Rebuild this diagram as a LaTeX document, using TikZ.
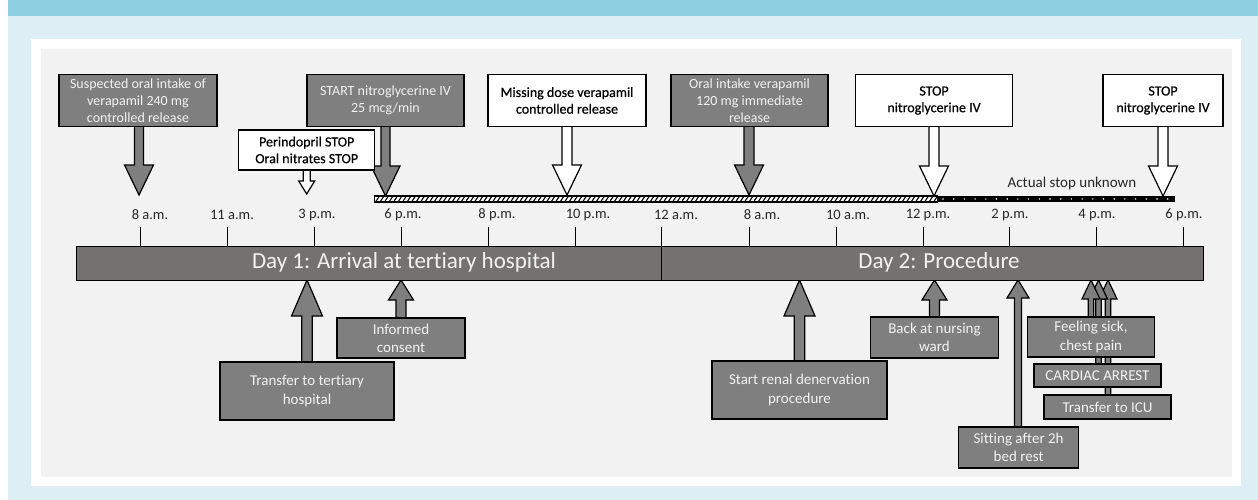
\documentclass[tikz,border=0pt]{standalone}
\usepackage{fontspec}
\setmainfont{Carlito}[Ligatures=NoCommon]
\newfontfamily\wfont{Carlito}[Ligatures=NoCommon,FakeBold=0.5]
\usetikzlibrary{calc}
\definecolor{bandblue}{HTML}{8ED0E1}
\definecolor{lightblue}{HTML}{DDEEF5}
\definecolor{panelgray}{HTML}{F2F2F2}
\definecolor{boxgray}{HTML}{7F7F7F}
\definecolor{bargray}{HTML}{767171}
\definecolor{boxtext}{HTML}{F2F2F2}
\pgfdeclarelayer{bg}
\pgfdeclarelayer{arr}
\pgfsetlayers{bg,arr,main}
% block arrow pointing down: #1 start, #2 tip, #3 half shaft, #4 half head, #5 head length, #6 style
\newcommand\blkdown[6]{%
  \path[#6] let \p1=(#1),\p2=(#2) in
    (\x2-#3,\y1) -- (\x2-#3,\y2+#5) -- (\x2-#4,\y2+#5) -- (\x2,\y2)
    -- (\x2+#4,\y2+#5) -- (\x2+#3,\y2+#5) -- (\x2+#3,\y1) -- cycle;}
\newcommand\blkup[6]{%
  \path[#6] let \p1=(#1),\p2=(#2) in
    (\x2-#3,\y1) -- (\x2-#3,\y2-#5) -- (\x2-#4,\y2-#5) -- (\x2,\y2)
    -- (\x2+#4,\y2-#5) -- (\x2+#3,\y2-#5) -- (\x2+#3,\y1) -- cycle;}
\begin{document}
\begin{tikzpicture}[x=1pt,y=-1pt,
  gbox/.style={draw=black,line width=1.2pt,fill=boxgray,text=boxtext,align=center,inner sep=0pt,
    font=\fontsize{14}{16.7}\selectfont},
  wbox/.style={gbox,fill=white,text=black,font=\wfont\fontsize{14}{16.7}\selectfont},
  lbox/.style={gbox,font=\fontsize{15}{18.3}\selectfont},
  garrow/.style={draw=black,line width=1.2pt,fill=boxgray,line join=miter},
  warrow/.style={garrow,fill=white},
  daybar/.style={draw=black,line width=1.4pt,fill=bargray,inner sep=0pt,anchor=north west},
  daytext/.style={text=boxtext,font=\fontsize{23}{26}\selectfont,inner sep=0pt},
  ticklab/.style={text=black!85,font=\fontsize{14.5}{16}\selectfont,inner sep=0pt},
  tickline/.style={draw=black,line width=1pt}]
\useasboundingbox (0,0) rectangle (1258,500);
\begin{pgfonlayer}{bg}
  \fill[white] (0,0) rectangle (1258,500);
  \fill[lightblue] (8,0) rectangle (1258,500);
  \fill[bandblue] (8,0) rectangle (1258,16);
  \fill[white] (31,39) rectangle (1241,486);
  \fill[panelgray] (41,49) rectangle (1232,477);
\end{pgfonlayer}

% ---- timeline bar
\node[daybar,minimum width=585.3pt,minimum height=33.5pt] (day1) at (75.7,246) {};
\node[daybar,minimum width=542pt,minimum height=33.5pt] (day2) at (661,246) {};
\node[daytext] (d1t) at (404,262.5) {Day 1: Arrival at tertiary hospital};
\node[daytext] (d2t) at (939,262.5) {Day 2: Procedure};

% ---- ticks and labels
\foreach \tx/\lx/\lab [count=\k] in {140/150/8 a.m., 227/232/11 a.m., 314/317/3 p.m., 401/403/6 p.m.,
   488/497/8 p.m., 575/588/10 p.m., 661/676/12 a.m., 749/762/8 a.m., 836/848/10 a.m.,
   923/928/12 p.m., 1009/1010/2 p.m., 1096/1097/4 p.m., 1183/1184/6 p.m.}{
  \node[ticklab] (tl\k) at (\lx,215) {\lab};
  \coordinate (tk\k) at (\tx,227);
  \draw[tickline] (tk\k) -- (tk\k |- day1.north);
}

% ---- nitroglycerine bars
\node[draw=black,line width=0.8pt,fill=white,minimum width=563pt,minimum height=5.5pt,anchor=west,inner sep=0pt] (nitro) at (374,199) {};
\begin{scope}
  \clip (374,196.2) rectangle (937,201.8);
  \foreach \i in {0,...,126} \draw[black,line width=1.1pt] ({371+4.5*\i},202) -- ({375+4.5*\i},196);
\end{scope}
\draw[black,line width=0.8pt] (nitro.north west) rectangle (nitro.south east);
\node[draw=black,line width=0.8pt,fill=black,minimum width=237pt,minimum height=5.5pt,anchor=west,inner sep=0pt] (unk) at (937,199) {};
\foreach \i in {0,...,21} \fill[white] ({943+10.7*\i},199) circle (0.8);
\node[ticklab,text=black!85,font=\fontsize{15}{17}\selectfont] (act) at (1072,184) {Actual stop unknown};

% ---- top boxes
\node[gbox,minimum width=158pt,minimum height=52pt] (sus) at (138,100.5) {Suspected oral intake of\\verapamil 240 mg\\controlled release};
\node[wbox,minimum width=136pt,minimum height=40pt] (per) at (306.7,150) {Perindopril STOP\\Oral nitrates STOP};
\node[gbox,minimum width=157pt,minimum height=52pt] (start) at (385.5,100.5) {START nitroglycerine IV\\25 mcg/min};
\node[wbox,minimum width=158pt,minimum height=52pt] (miss) at (567,100.5) {Missing dose verapamil\\controlled release};
\node[gbox,minimum width=157pt,minimum height=52pt] (oral) at (749.5,100.5) {Oral intake verapamil\\120 mg immediate\\release};
\node[wbox,minimum width=157pt,minimum height=52pt] (stop1) at (934,100.5) {STOP\\nitroglycerine IV};
\node[wbox,minimum width=120pt,minimum height=52pt] (stop2) at (1163,100.5) {STOP\\nitroglycerine IV};

\coordinate (tsus) at (139,195);
\coordinate (tper) at (306.7,194);
\coordinate (tstart) at (385.5,196);
\coordinate (tmiss) at (567,195);
\coordinate (toral) at (749,195);
\coordinate (tstop1) at (934,196);
\coordinate (tstop2) at (1163,196);

% ---- bottom boxes
\node[lbox,minimum width=174pt,minimum height=58pt] (trans) at (307,391) {Transfer to tertiary\\hospital};
\node[lbox,minimum width=128pt,minimum height=40pt] (cons) at (401,338) {Informed\\consent};
\node[lbox,minimum width=175pt,minimum height=58pt] (renal) at (799.5,390) {Start renal denervation\\procedure};
\node[lbox,minimum width=128pt,minimum height=41pt] (ward) at (934.5,337.5) {Back at nursing\\ward};
\node[lbox,minimum width=120pt,minimum height=41pt] (sit) at (1018.6,447.5) {Sitting after 2h\\bed rest};
\node[lbox,minimum width=127pt,minimum height=24pt] (icu) at (1107.5,407) {Transfer to ICU};
\node[lbox,minimum width=127pt,minimum height=23pt] (arrest) at (1097.5,375.5) {CARDIAC ARREST};
\node[lbox,minimum width=127pt,minimum height=40pt] (sick) at (1091,337) {Feeling sick,\\chest pain};

\coordinate (ttrans) at (307,280);
\coordinate (tcons) at (401,280);
\coordinate (trenal) at (799.5,280);
\coordinate (tward) at (934.5,280);
\coordinate (tsit) at (1018,280);
\coordinate (tsick) at (1091,280);
\coordinate (tarrest) at (1098.5,280);
\coordinate (ticu) at (1108,280);

\begin{pgfonlayer}{arr}
  \blkdown{sus.center}{tsus}{4.5pt}{14.5pt}{30pt}{garrow}
  \blkdown{per.center}{tper}{3.5pt}{8pt}{13pt}{warrow}
  \blkdown{start.center}{tstart}{4.5pt}{14.5pt}{30pt}{garrow}
  \blkdown{miss.center}{tmiss}{5pt}{14.5pt}{30pt}{warrow}
  \blkdown{oral.center}{toral}{5pt}{14.5pt}{30pt}{garrow}
  \blkdown{stop1.center}{tstop1}{5pt}{14.5pt}{30pt}{warrow}
  \blkdown{stop2.center}{tstop2}{5pt}{14.5pt}{30pt}{warrow}
  \blkup{trans.center}{ttrans}{5.2pt}{15.5pt}{36pt}{garrow}
  \blkup{cons.center}{tcons}{5pt}{12.5pt}{20pt}{garrow}
  \blkup{renal.center}{trenal}{5.2pt}{15.5pt}{36pt}{garrow}
  \blkup{ward.center}{tward}{5pt}{12.5pt}{20pt}{garrow}
  \blkup{sit.center}{tsit}{3.5pt}{11pt}{18pt}{garrow}
  \blkup{icu.center}{ticu}{2.8pt}{9pt}{19pt}{garrow}
  \blkup{arrest.center}{tarrest}{2.8pt}{9pt}{19pt}{garrow}
  \blkup{sick.center}{tsick}{2.8pt}{9pt}{19pt}{garrow}
\end{pgfonlayer}
\end{tikzpicture}
\end{document}
